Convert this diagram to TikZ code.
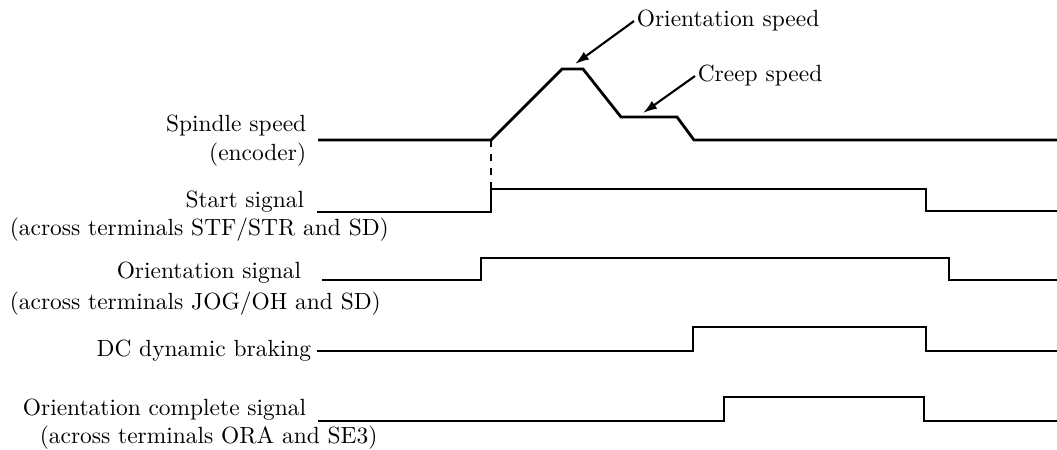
\documentclass[tikz,border=0pt]{standalone}
\usetikzlibrary{arrows.meta, positioning}
\tikzset{
  sig/.style={line width=1.2pt, line join=miter},
  lbl/.style={font=\fontsize{10}{12.5}\selectfont, inner sep=1pt},
  callout/.style={-{Latex[length=6pt, width=4pt]}, line width=0.9pt},
}
\begin{document}
\begin{tikzpicture}[x=0.015cm, y=-0.015cm]
    \useasboundingbox (0,0) rectangle (1057,449);
    % labels
    \node[lbl, anchor=east, align=right] (spd) at (309,141) {Spindle speed\\(encoder)};
    \node[lbl, anchor=east] (stf) at (307,202) {Start signal};
    \node[lbl, anchor=west] (stfsub) at (7,230) {(across terminals STF/STR and SD)};
    \node[lbl, anchor=east] (ori) at (304,273) {Orientation signal};
    \node[lbl, anchor=west] (orisub) at (7,304) {(across terminals JOG/OH and SD)};
    \node[lbl, anchor=east] (dcb) at (314,351) {DC dynamic braking};
    \node[lbl, anchor=east] (ora) at (309,410) {Orientation complete signal};
    \node[lbl, anchor=west] (orasub) at (37,438) {(across terminals ORA and SE3)};
    \node[lbl, anchor=west] (ospd) at (634,21) {Orientation speed};
    \node[lbl, anchor=west] (cspd) at (695,76) {Creep speed};
    % waveforms
    \coordinate (s0) at (491,140);
    \coordinate (peak) at (575,64);
    \coordinate (creep) at (643,113);
    \draw[sig] (318,140) -- (s0) -- (562,69) -- (583,69) -- (621,117)
      -- (677,117) -- (694,140) -- (1057,140);
    \coordinate (r0) at (491,189);
    \draw[sig] (317,212) -- (491,212) -- (r0) -- (926,189) -- (926,211) -- (1057,211);
    \draw[sig] (322,280) -- (481,280) -- (481,258) -- (949,258) -- (949,280) -- (1057,280);
    \draw[sig] (317,351) -- (693,351) -- (693,327) -- (926,327) -- (926,351) -- (1057,351);
    \draw[sig] (318,421) -- (724,421) -- (724,397) -- (924,397) -- (924,421) -- (1057,421);
    \draw[dashed, line width=0.8pt] (s0) -- (r0);
    % callouts
    \draw[callout] (ospd.west) -- (peak);
    \draw[callout] (cspd.west) -- (creep);
\end{tikzpicture}
\end{document}
